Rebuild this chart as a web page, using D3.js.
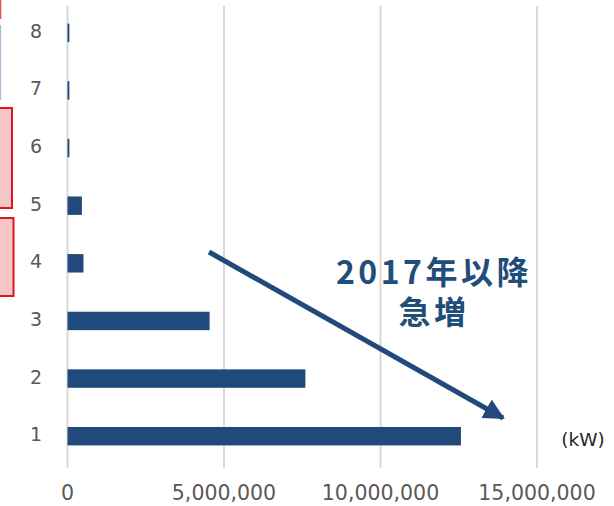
<!DOCTYPE html>
<html>
<head>
<meta charset="utf-8">
<script src="https://cdn.jsdelivr.net/npm/d3@7"></script>
<style>
  html, body { margin: 0; padding: 0; background: #fff; }
  svg { display: block; font-family: "DejaVu Sans", sans-serif; }
</style>
</head>
<body>
<svg id="chart" width="614" height="506"></svg>
<script>
// データ
const categories = ["1", "2", "3", "4", "5", "6", "7", "8"];
const values = [12570000, 7600000, 4540000, 510000, 460000, 60000, 60000, 60000];
const xTicks = [0, 5000000, 10000000, 15000000];
const unitLabel = "(kW)";
const noteLines = ["2017年以降", "急増"];

const svg = d3.select("#chart");
const plotLeft = 67.5, plotRight = 537, plotTop = 4, plotBottom = 465;

const x = d3.scaleLinear().domain([0, 15000000]).range([plotLeft, plotRight]);
const y = d3.scaleBand().domain(categories.slice().reverse()).range([plotTop, plotBottom]).paddingInner(0.68).paddingOuter(0.34);

// 左端の切れた図形
svg.append("rect").attr("x", -10).attr("y", 108).attr("width", 22).attr("height", 100)
  .attr("fill", "#f4c6c8").attr("stroke", "#e0161c").attr("stroke-width", 2);
svg.append("rect").attr("x", -10).attr("y", 218).attr("width", 23.5).attr("height", 78)
  .attr("fill", "#f4c6c8").attr("stroke", "#e0161c").attr("stroke-width", 2);
svg.append("line").attr("x1", 0.5).attr("x2", 0.5).attr("y1", 0).attr("y2", 19)
  .attr("stroke", "#f0474c").attr("stroke-width", 1.5);
svg.append("line").attr("x1", 0.5).attr("x2", 0.5).attr("y1", 25).attr("y2", 100)
  .attr("stroke", "#b4b4d8").attr("stroke-width", 1.2);

// グリッド線
svg.append("g").selectAll("line").data(xTicks).join("line")
  .attr("x1", d => x(d)).attr("x2", d => x(d))
  .attr("y1", 6).attr("y2", 468)
  .attr("stroke", "#d9d9d9").attr("stroke-width", 2);

// 棒
svg.append("g").selectAll("rect").data(values).join("rect")
  .attr("x", x(0))
  .attr("y", (d, i) => y(categories[i]))
  .attr("width", d => x(d) - x(0))
  .attr("height", y.bandwidth())
  .attr("fill", "#204a7c");

// 軸ラベル
svg.append("g").selectAll("text").data(categories).join("text")
  .attr("x", 42).attr("y", d => y(d) + y.bandwidth() / 2 + 5)
  .attr("text-anchor", "end")
  .attr("font-size", 19).attr("fill", "#595959")
  .text(d => d);

svg.append("g").selectAll("text").data(xTicks).join("text")
  .attr("x", d => x(d)).attr("y", 500)
  .attr("text-anchor", "middle")
  .attr("font-size", 20.5).attr("fill", "#595959")
  .text(d => d3.format(",")(d));

svg.append("text").attr("x", 583).attr("y", 446)
  .attr("text-anchor", "middle").attr("font-size", 18.5).attr("fill", "#262626")
  .text(unitLabel);

// 矢印
svg.append("defs").append("marker")
  .attr("id", "head").attr("viewBox", "0 0 10 10")
  .attr("refX", 9).attr("refY", 5)
  .attr("markerWidth", 4.2).attr("markerHeight", 4.2)
  .attr("markerUnits", "strokeWidth")
  .attr("orient", "auto")
  .append("path").attr("d", "M0,0 L10,5 L0,10 Z").attr("fill", "#204a7c");

svg.append("line")
  .attr("x1", 209).attr("y1", 252).attr("x2", 503).attr("y2", 418)
  .attr("stroke", "#204a7c").attr("stroke-width", 5)
  .attr("marker-end", "url(#head)");

// 注記
svg.append("g").selectAll("text").data(noteLines).join("text")
  .attr("x", 434).attr("y", (d, i) => 284 + i * 40)
  .attr("text-anchor", "middle")
  .attr("font-family", "'Noto Sans CJK JP', sans-serif")
  .attr("font-size", 32).attr("font-weight", "bold").attr("fill", "#1f4e79")
  .attr("letter-spacing", 3.5)
  .text(d => d);
</script>
</body>
</html>
